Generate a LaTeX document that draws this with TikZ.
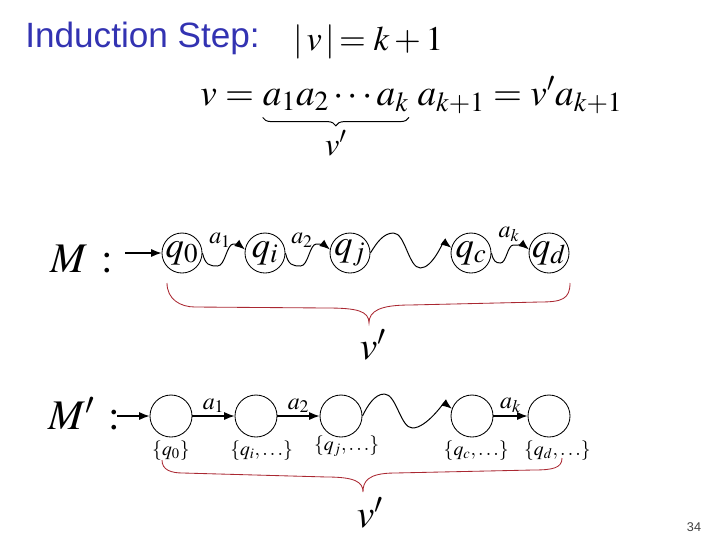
\documentclass[tikz,border=0pt]{standalone}
\usepackage{mathptmx}
\usepackage{fontspec}
\newfontfamily\slidefont{Liberation Sans}
\usetikzlibrary{arrows.meta, positioning, calc, decorations.pathreplacing}
\definecolor{titleblue}{RGB}{51, 51, 178}
\definecolor{bracered}{RGB}{170, 40, 50}
\tikzset{
    qstate/.style={circle, draw, line width=0.6pt, minimum size=1cm, inner sep=-2pt,
                   font=\fontsize{26}{28}\selectfont},
    setstate/.style={circle, draw, line width=0.6pt, minimum size=1.05cm, inner sep=0pt},
    setlabel/.style={font=\fontsize{14}{16}\selectfont, inner sep=1pt},
    edgelabel/.style={font=\fontsize{17}{19}\selectfont, inner sep=0pt},
    bigmath/.style={font=\fontsize{28}{30}\selectfont, inner sep=0pt},
    eqpart/.style={font=\fontsize{26.5}{28}\selectfont, inner sep=0pt, anchor=base west},
    arrow/.style={-{Latex[length=2.6mm, width=2mm]}, line width=0.8pt},
    wavearrow/.style={-{Latex[length=2.6mm, width=2mm]}, line width=0.7pt},
    brace/.style={bracered, line width=0.6pt},
    underbr/.style={decorate, decoration={brace, mirror, amplitude=6pt}, line width=0.7pt},
}

\begin{document}
\begin{tikzpicture}[x=0.025cm, y=-0.025cm]
    \useasboundingbox (0,0) rectangle (720,540);

    \node[anchor=base west, inner sep=0pt, text=titleblue, font=\slidefont\fontsize{25}{27}\selectfont] (title) at (25,47) {Induction Step:};
    \node[bigmath, anchor=base west, font=\fontsize{24.5}{26}\selectfont] (len) at (293,50) {$|\,v\,|\!= k+1$};

    \node[eqpart] (wleft) at (200,105) {$v={}$};
    \node[eqpart] (wpre) at (wleft.base east) {$a_1a_2\cdots a_k$};
    \node[eqpart] (wpost) at (wpre.base east) {$\;a_{k+1} = v'a_{k+1}$};
    \draw[underbr] ([yshift=-4pt]wpre.south west) -- node[below=9pt, font=\fontsize{23}{25}\selectfont, inner sep=0pt] (wsub) {$v'$} ([yshift=-4pt]wpre.south east);

    % M
    \node[bigmath, anchor=west, font=\fontsize{30}{32}\selectfont] (mtop) at (50,259) {$M\,:$};
    \coordinate (mstart) at (125,253);
    \node[qstate] (q0) at (182,253) {$q_0$};
    \node[qstate] (qi) at (265,253) {$q_i$};
    \node[qstate] (qj) at (350,253) {$q_j$};
    \node[qstate] (qc) at (471,253) {$q_c$};
    \node[qstate] (qd) at (549,253) {$q_d$};
    \node[edgelabel] (ta1) at (220,240) {$a_1$};
    \node[edgelabel] (ta2) at (302,240) {$a_2$};
    \node[edgelabel] (tak) at (509,234) {$a_k$};

    \draw[arrow] (mstart) -- (q0);
    \draw[wavearrow] (q0.east) .. controls +(3,12) and +(-8,0) .. ++(15,13) .. controls +(8,0) and +(-7,0) .. ++(16,-22) .. controls +(5,0) and +(-5,-4) .. (qi.170);
    \draw[wavearrow] (qi.east) .. controls +(3,12) and +(-8,0) .. ++(15,13) .. controls +(8,0) and +(-7,0) .. ++(16,-22) .. controls +(5,0) and +(-5,-4) .. (qj.170);
    \draw[wavearrow] (qj.east) .. controls +(6,-10) and +(-10,0) .. ++(23,-20) .. controls +(12,0) and +(-12,0) .. ++(27,35) .. controls +(12,0) and +(-8,-6) .. (qc.165);
    \draw[wavearrow] (qc.east) .. controls +(2,8) and +(-5,0) .. ++(9,10) .. controls +(6,0) and +(-6,0) .. ++(13,-18) .. controls +(4,0) and +(-5,-4) .. (qd.170);

    \coordinate (tbl) at (167,283);
    \coordinate (tbr) at (570,283);
    \coordinate (tbt) at (369,323);
    \draw[brace] (tbl) .. controls +(0,16) and +(-15,0) .. (195,307) -- (327,308) .. controls +(30,0) and +(0,-12) .. (tbt)
        .. controls +(0,-12) and +(-30,0) .. (410,305) -- (540,302) .. controls +(22,0) and +(0,16) .. (tbr);
    \node[bigmath] (vtop) at (373,345) {$v'$};

    % M'
    \node[bigmath, anchor=west, font=\fontsize{30}{32}\selectfont] (mbot) at (48,414) {$M'\,:$};
    \coordinate (mbstart) at (117,416);
    \node[setstate] (s0) at (171,416) {};
    \node[setstate] (si) at (256,416) {};
    \node[setstate] (sj) at (341,416) {};
    \node[setstate] (sc) at (472,416) {};
    \node[setstate] (sd) at (549,416) {};
    \node[setlabel, below=1pt of s0] (l0) {$\{q_0\}$};
    \node[setlabel, below=1pt of si, xshift=4pt] (li) {$\{q_i,\ldots\}$};
    \node[setlabel, below=-2pt of sj, xshift=4pt] (lj) {$\{q_j,\ldots\}$};
    \node[setlabel, below=1pt of sc, xshift=3pt] (lc) {$\{q_c,\ldots\}$};
    \node[setlabel, below=1pt of sd, xshift=6pt] (ld) {$\{q_d,\ldots\}$};

    \draw[arrow] (mbstart) -- (s0);
    \draw[arrow] (s0) -- node[edgelabel, above=2pt] (ba1) {$a_1$} (si);
    \draw[arrow] (si) -- node[edgelabel, above=2pt] (ba2) {$a_2$} (sj);
    \draw[wavearrow] (sj.east) .. controls +(5,-10) and +(-10,0) .. ++(22,-22) .. controls +(12,0) and +(-12,0) .. ++(28,34) .. controls +(14,0) and +(-8,-6) .. (sc.160);
    \draw[arrow] (sc) -- node[edgelabel, above=2pt] (bak) {$a_k$} (sd);

    \coordinate (bbl) at (162,460);
    \coordinate (bbr) at (562,458);
    \coordinate (bbt) at (363,492);
    \draw[brace] (bbl) .. controls +(0,10) and +(-12,0) .. (183,473) -- (327,477) .. controls +(28,0) and +(0,-10) .. (bbt)
        .. controls +(0,-10) and +(-28,0) .. (395,473) -- (533,470) .. controls +(20,0) and +(0,10) .. (bbr);
    \node[bigmath] (vbot) at (370,513) {$v'$};

    \node[text=black!75, font=\slidefont\fontsize{9}{10}\selectfont] (pagenum) at (694,527) {34};
\end{tikzpicture}
\end{document}
